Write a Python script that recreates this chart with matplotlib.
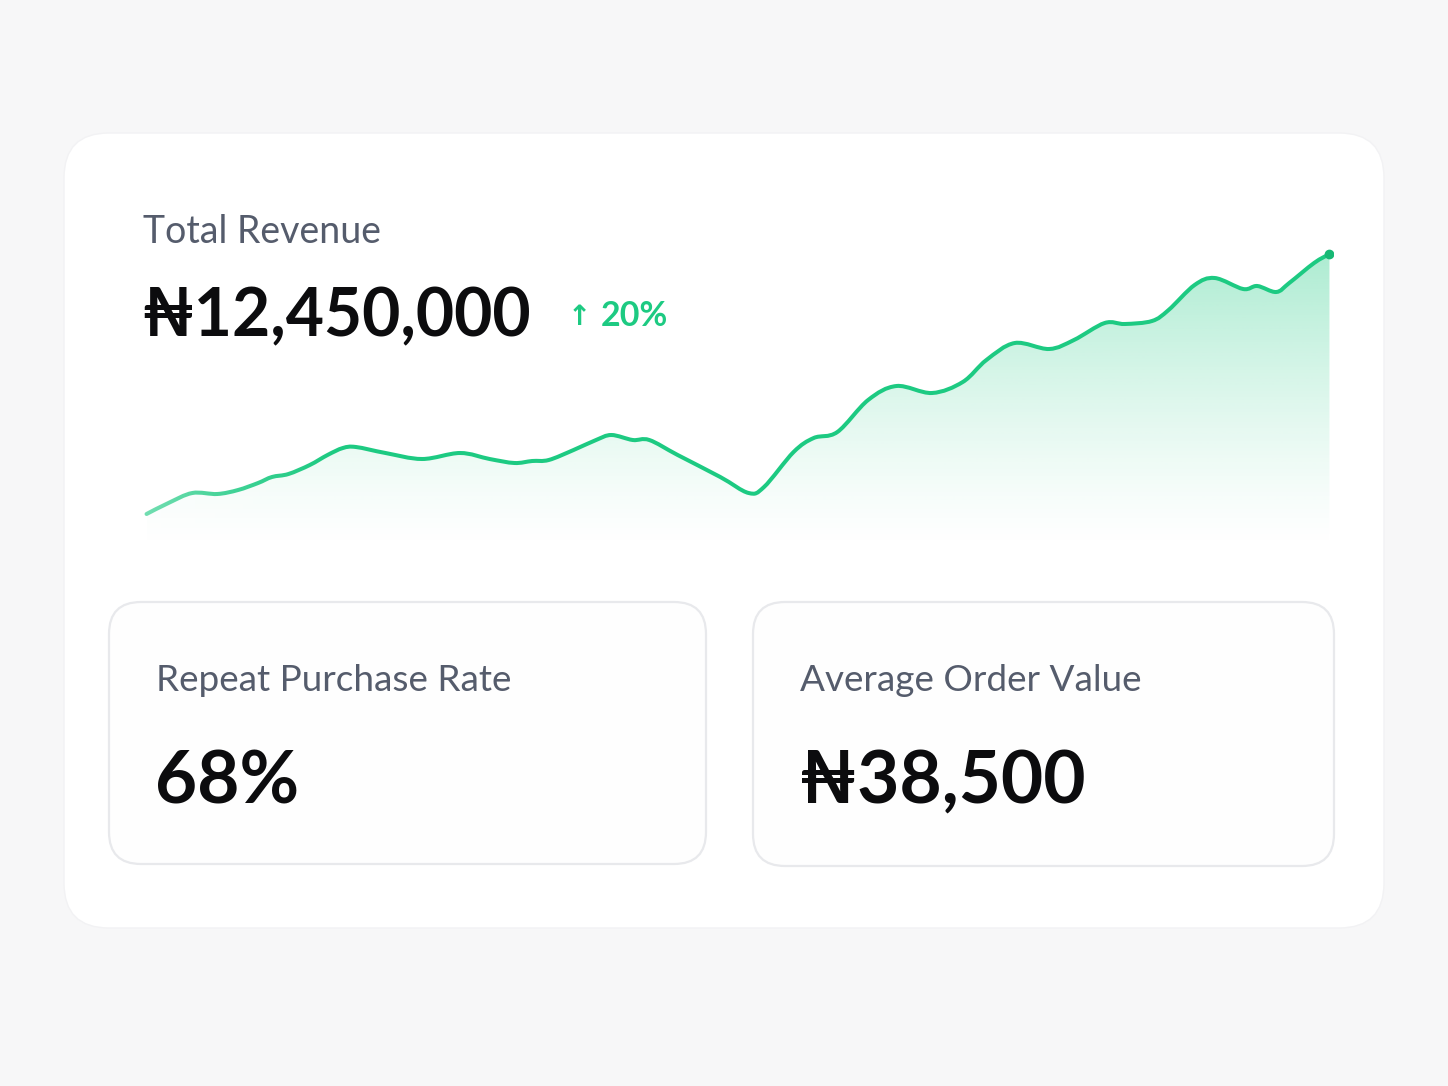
import numpy as np
import matplotlib
matplotlib.use("Agg")
import matplotlib.pyplot as plt
from matplotlib.patches import FancyBboxPatch, PathPatch
from matplotlib.path import Path

# ---------------- data ----------------
day = [0, 1.85, 3.87, 5.98, 7.74, 9.43, 10.6, 12.0, 13.8, 15.3, 16.6, 17.7,
       20.2, 23.3, 26.5, 29.0, 31.1, 32.6, 34.0, 36.1, 38.0, 39.3, 41.1, 42.5,
       44.9, 48.5, 50.9, 52.2, 54.7, 56.4, 58.4, 61.0, 63.4, 66.4, 69.0, 71.0,
       73.4, 76.3, 78.4, 81.0, 82.7, 85.0, 86.4, 88.6, 90.3, 92.7, 93.9, 95.5,
       96.6, 98.7, 100]
revenue = [16, 27, 37, 36, 40, 47, 53, 56, 65, 75, 82, 83,
           77, 71, 77, 71, 67, 69, 70, 80, 90, 95, 90, 90,
           75, 53, 37, 43, 78, 92, 98, 130, 144, 137, 148, 170,
           187, 181, 190, 207, 206, 209, 220, 245, 252, 241, 244, 238,
           247, 267, 276]

headline_label = "Total Revenue"
headline_value = "₦12,450,000"
headline_change = "20%"
kpi_labels = ["Repeat Purchase Rate", "Average Order Value"]
kpi_values = ["68%", "₦38,500"]

# ---------------- style ----------------
FONT = ['Lato', 'DejaVu Sans']
BG = '#f7f7f8'
GREEN = '#1dca82'
LABEL_C = '#555c6c'
VALUE_C = '#0c0c0e'

W, H = 1448, 1086
fig = plt.figure(figsize=(W / 100, H / 100), dpi=100)
fig.patch.set_facecolor(BG)

bg = fig.add_axes([0, 0, 1, 1])
bg.set_xlim(0, W)
bg.set_ylim(H, 0)
bg.axis('off')
bg.set_zorder(0)

# card shadow (soft, mostly below)
cx0, cy0, cx1, cy1 = 64, 133, 1384, 928
for i in range(36):
    e = i * 2.0
    bg.add_patch(FancyBboxPatch((cx0 - e * 0.55, cy0 - e * 0.2 + 20),
                                (cx1 - cx0) + 1.1 * e, (cy1 - cy0) + 1.2 * e,
                                boxstyle=f"round,pad=0,rounding_size={45 + e}",
                                fc='#000000', ec='none', alpha=0.0016, zorder=1))
# main card
bg.add_patch(FancyBboxPatch((cx0, cy0), cx1 - cx0, cy1 - cy0,
                            boxstyle="round,pad=0,rounding_size=45",
                            fc='white', ec='#f2f2f4', lw=1, zorder=2))

# sub cards
for (x0, y0, x1, y1) in [(109, 602, 706, 864), (753, 602, 1334, 866)]:
    bg.add_patch(FancyBboxPatch((x0, y0), x1 - x0, y1 - y0,
                                boxstyle="round,pad=0,rounding_size=32",
                                fc='#fefefe', ec='#e8e9ec', lw=1.6, zorder=3))

# ---------------- chart ----------------
px0, px1 = 143, 1333
py_top, py_bot = 240, 560
ax = fig.add_axes([px0 / W, 1 - py_bot / H, (px1 - px0) / W, (py_bot - py_top) / H])
ax.set_zorder(1)
ax.patch.set_alpha(0)
ax.axis('off')

x = np.asarray(day, float)
y = np.asarray(revenue, float)
P = np.column_stack([x, y])
n = len(P)
verts = [P[0]]
codes = [Path.MOVETO]
for i in range(n - 1):
    p0 = P[max(i - 1, 0)]
    p1 = P[i]
    p2 = P[i + 1]
    p3 = P[min(i + 2, n - 1)]
    c1 = p1 + (p2 - p0) / 6.0
    c2 = p2 - (p3 - p1) / 6.0
    verts += [c1, c2, p2]
    codes += [Path.CURVE4] * 3
line_path = Path(np.array(verts), codes)

ybase = -20
fill_verts = verts + [np.array([x[-1], ybase]), np.array([x[0], ybase]), P[0]]
fill_codes = codes + [Path.LINETO, Path.LINETO, Path.CLOSEPOLY]
fill_path = Path(np.array(fill_verts), fill_codes)
clip = PathPatch(fill_path, fc='none', ec='none', transform=ax.transData)
ax.add_patch(clip)

ny = 300
t = np.linspace(0, 1, ny)[:, None]
rgba = np.zeros((ny, 2, 4))
rgb = matplotlib.colors.to_rgb(GREEN)
rgba[..., 0], rgba[..., 1], rgba[..., 2] = rgb
rgba[..., 3] = 0.36 * np.clip(t, 0, 1) ** 1.3
im = ax.imshow(rgba, extent=(x[0], x[-1], ybase, max(y)), origin='lower',
               aspect='auto', interpolation='bilinear', zorder=1)
im.set_clip_path(clip)

ax.add_patch(PathPatch(line_path, fc='none', ec=GREEN, lw=2.9,
                       capstyle='round', joinstyle='round', zorder=3))
ax.plot([x[-1]], [y[-1]], 'o', color='#17b874', ms=6, zorder=4)

# fade the left start of the curve
nx = 200
fade = np.ones((2, nx, 4))
fx = np.linspace(0, 1, nx)
fade[..., 3] = 0.4 * np.clip(1 - fx / 0.18, 0, 1) ** 1.5
ax.imshow(fade, extent=(x[0] - 1, x[-1], -30, 110), origin='lower',
          aspect='auto', interpolation='bilinear', zorder=5)
ax.set_xlim(min(day) - 0.3, max(day) + 0.3)
ax.set_ylim(-30, 290)

# ---------------- texts (on top) ----------------
tx = fig.add_axes([0, 0, 1, 1])
tx.set_xlim(0, W)
tx.set_ylim(H, 0)
tx.axis('off')
tx.patch.set_alpha(0)
tx.set_zorder(3)

tx.text(143, 243, headline_label, family=FONT, fontsize=27, color=LABEL_C,
        va='baseline', ha='left')
tx.text(141, 336, headline_value, family=FONT, fontsize=47.5, weight='bold',
        color=VALUE_C, va='baseline', ha='left')
tx.text(568, 325, "↑", family=['DejaVu Sans'], fontsize=20, weight='bold',
        color=GREEN, va='baseline', ha='left')
tx.text(601, 326, headline_change, family=FONT, fontsize=24.5, weight='bold',
        color=GREEN, va='baseline', ha='left')

for lab, val, xx in zip(kpi_labels, kpi_values, [156, 800]):
    tx.text(xx, 691, lab, family=FONT, fontsize=26.6, color=LABEL_C,
            va='baseline', ha='left')
    tx.text(xx - 1, 803, val, family=FONT, fontsize=52.5, weight='bold',
            color=VALUE_C, va='baseline', ha='left')

fig.savefig('out.png', dpi=100, facecolor=BG)
